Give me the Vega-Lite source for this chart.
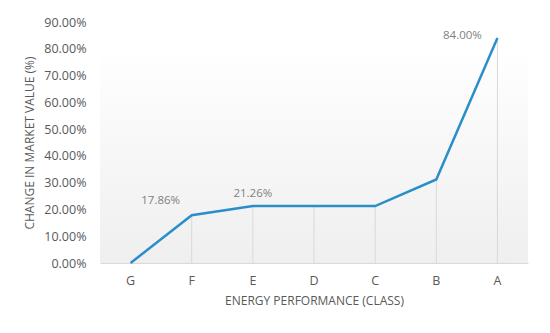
{
  "$schema": "https://vega.github.io/schema/vega-lite/v6.json",
  "width": 428,
  "height": 241,
  "autosize": {"type": "none"},
  "padding": {"left": 100, "top": 22, "right": 22, "bottom": 70},
  "background": "white",
  "config": {
    "font": "Open Sans",
    "view": {
      "stroke": null,
      "fill": {"gradient": "linear", "x1": 0, "y1": 0, "x2": 0, "y2": 1, "stops": [{"offset": 0.1, "color": "#ffffff"}, {"offset": 1, "color": "#efefef"}]}
    },
    "axis": {
      "labelFont": "Open Sans",
      "titleFont": "Open Sans",
      "labelColor": "#595959",
      "titleColor": "#595959",
      "labelFontSize": 12.5,
      "titleFontSize": 12,
      "titleFontWeight": "normal",
      "ticks": false,
      "grid": false,
      "labelOverlap": false
    }
  },
  "data": {
    "values": [
      {"class": "G", "value": 0.0},
      {"class": "F", "value": 0.1786},
      {"class": "E", "value": 0.2126},
      {"class": "D", "value": 0.2126},
      {"class": "C", "value": 0.2126},
      {"class": "B", "value": 0.312},
      {"class": "A", "value": 0.84}
    ]
  },
  "encoding": {
    "x": {
      "field": "class",
      "type": "nominal",
      "sort": null,
      "scale": {"padding": 0},
      "axis": {"labelAngle": 0, "title": "ENERGY PERFORMANCE (CLASS)", "labelPadding": 11, "titlePadding": 9, "domainColor": "#d9d9d9", "domainWidth": 1}
    },
    "y": {
      "field": "value",
      "type": "quantitative",
      "scale": {"domain": [0, 0.9]},
      "axis": {"title": "CHANGE IN MARKET VALUE (%)", "values": [0, 0.1, 0.2, 0.3, 0.4, 0.5, 0.6, 0.7, 0.8, 0.9], "format": ".2%", "domain": false, "labelPadding": 14, "titlePadding": 7}
    }
  },
  "layer": [
    {
      "mark": {"type": "rule", "color": "#d9d9d9", "strokeWidth": 1},
      "encoding": {"y2": {"datum": 0}}
    },
    {
      "mark": {"type": "line", "color": "#2a8fc9", "strokeWidth": 2.5}
    },
    {
      "transform": [{"filter": "datum.class === 'F'"}],
      "mark": {"type": "text", "dx": -31, "dy": -14, "color": "#7f7f7f", "fontSize": 11.5},
      "encoding": {"text": {"field": "value", "type": "quantitative", "format": ".2%"}}
    },
    {
      "transform": [{"filter": "datum.class === 'E'"}],
      "mark": {"type": "text", "dx": 0, "dy": -12, "color": "#7f7f7f", "fontSize": 11.5},
      "encoding": {"text": {"field": "value", "type": "quantitative", "format": ".2%"}}
    },
    {
      "transform": [{"filter": "datum.class === 'A'"}],
      "mark": {"type": "text", "dx": -35, "dy": -2, "color": "#7f7f7f", "fontSize": 11.5},
      "encoding": {"text": {"field": "value", "type": "quantitative", "format": ".2%"}}
    }
  ]
}
